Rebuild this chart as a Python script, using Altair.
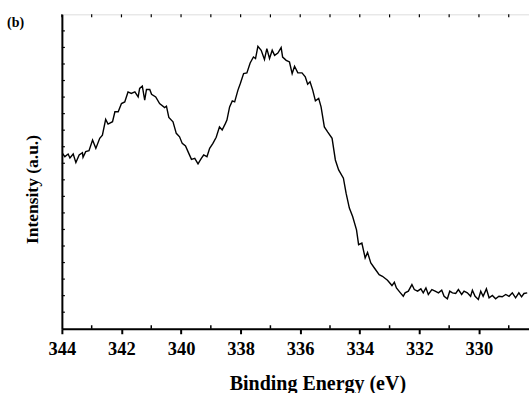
import altair as alt
import pandas as pd

# Binding energy (eV) and intensity (a.u.)
energy = [
    343.98, 343.90, 343.79, 343.73, 343.62, 343.53, 343.42, 343.31, 343.29, 343.20,
    343.09, 342.97, 342.86, 342.73, 342.64, 342.53, 342.45, 342.30, 342.22, 342.11,
    342.00, 341.89, 341.78, 341.67, 341.55, 341.44, 341.39, 341.30, 341.22, 341.16,
    341.05, 340.99, 340.85, 340.72, 340.55, 340.49, 340.41, 340.27, 340.16, 340.05,
    339.96, 339.85, 339.74, 339.65, 339.54, 339.43, 339.32, 339.24, 339.13, 339.04,
    338.93, 338.82, 338.71, 338.62, 338.51, 338.46, 338.37, 338.28, 338.20, 338.09,
    338.01, 337.90, 337.79, 337.68, 337.57, 337.50, 337.42, 337.31, 337.20, 337.12,
    337.03, 336.94, 336.86, 336.75, 336.64, 336.59, 336.47, 336.36, 336.27, 336.19,
    336.08, 335.94, 335.83, 335.75, 335.67, 335.58, 335.49, 335.38, 335.30, 335.19,
    335.08, 334.93, 334.82, 334.71, 334.55, 334.46, 334.35, 334.24, 334.11, 334.04,
    333.93, 333.82, 333.74, 333.63, 333.51, 333.35, 333.24, 333.07, 332.92, 332.84,
    332.77, 332.65, 332.54, 332.48, 332.37, 332.25, 332.17, 332.06, 331.95, 331.87,
    331.78, 331.70, 331.58, 331.47, 331.36, 331.25, 331.17, 331.06, 330.98, 330.89,
    330.78, 330.69, 330.58, 330.50, 330.39, 330.28, 330.22, 330.13, 330.02, 329.94,
    329.86, 329.75, 329.66, 329.55, 329.44, 329.33, 329.22, 329.10, 328.99, 328.88,
    328.77, 328.66, 328.57, 328.49, 328.38,
]
intensity = [
    10.60, 10.40, 10.56, 10.32, 10.56, 10.04, 10.50, 10.64, 10.36, 10.70,
    10.76, 11.40, 10.90, 11.51, 11.70, 12.65, 12.37, 12.51, 13.11, 13.11,
    13.61, 13.71, 14.31, 14.22, 14.31, 14.01, 14.52, 14.66, 13.81, 14.46,
    14.46, 14.17, 14.01, 13.61, 13.37, 13.45, 12.77, 12.51, 11.81, 11.60,
    11.20, 11.04, 10.60, 10.24, 10.30, 9.96, 10.30, 10.50, 10.40, 10.90,
    11.20, 11.57, 12.20, 12.01, 12.41, 12.61, 13.41, 13.77, 13.71, 14.42,
    14.82, 15.42, 15.46, 16.06, 16.42, 16.33, 17.07, 16.83, 16.27, 16.93,
    16.33, 16.83, 16.52, 16.66, 16.99, 16.42, 16.22, 16.12, 15.42, 15.86,
    15.46, 15.46, 15.22, 14.78, 14.92, 14.42, 13.77, 13.92, 13.41, 12.20,
    11.90, 11.51, 10.20, 9.60, 9.10, 8.19, 7.29, 6.78, 5.98, 5.08,
    5.18, 4.28, 4.61, 3.98, 3.67, 3.27, 3.17, 2.93, 2.61, 2.81,
    2.47, 2.20, 1.96, 2.17, 2.27, 2.67, 2.37, 2.27, 2.41, 2.17,
    2.47, 2.07, 2.37, 2.27, 2.17, 2.33, 1.96, 1.81, 2.27, 2.17,
    2.13, 2.37, 2.07, 2.27, 2.17, 1.96, 2.33, 1.96, 1.77, 2.27,
    1.96, 2.41, 1.87, 2.01, 1.81, 1.96, 1.93, 2.07, 1.96, 2.17,
    1.87, 2.17, 1.93, 2.13, 2.17,
]

x_major_ticks = [344, 342, 340, 338, 336, 334, 332, 330]
x_minor_ticks = [343, 341, 339, 337, 335, 333, 331, 329]
x_top_ticks = [344, 343, 342, 341, 340, 339, 338, 337, 336, 335, 334, 333, 332, 331, 330, 329]
y_ticks = list(range(1, 19))
panel_label = ["(b)"]

FONT = "Liberation Serif"
W, H = 468, 315
x_domain = [344, 328.32]
y_domain = [0, 19]

df = pd.DataFrame({"energy": energy, "intensity": intensity})

xscale = alt.Scale(domain=x_domain, nice=False, zero=False)
yscale = alt.Scale(domain=y_domain, nice=False, zero=False)

line = alt.Chart(df).mark_line(color="black", strokeWidth=1.4).encode(
    x=alt.X("energy:Q", scale=xscale,
            axis=alt.Axis(values=x_major_ticks, title="Binding Energy (eV)",
                          grid=False, domainColor="black", domainWidth=2,
                          tickColor="black", tickWidth=2, tickSize=5,
                          labelFont=FONT, labelFontWeight="bold", labelFontSize=18.5,
                          labelColor="black", labelPadding=6, labelFlush=False,
                          titleFont=FONT, titleFontWeight="bold", titleFontSize=20,
                          titleColor="black", titleX=256, titleY=61,
                          titleBaseline="alphabetic")),
    y=alt.Y("intensity:Q", scale=yscale,
            axis=alt.Axis(title="Intensity (a.u.)", labels=False, ticks=False,
                          grid=False, domainColor="black", domainWidth=2,
                          titleFont=FONT, titleFontWeight="bold", titleFontSize=17.5,
                          titleColor="black", titleX=-24, titleY=175,
                          titleBaseline="alphabetic")),
)

minor_bottom = alt.Chart(pd.DataFrame({"t": x_minor_ticks})).mark_rule(
    color="black", strokeWidth=1.5).encode(
    x=alt.X("t:Q", scale=xscale), y=alt.value(H), y2=alt.value(H - 3.5))

top_ticks = alt.Chart(pd.DataFrame({"t": x_top_ticks})).mark_rule(
    color="black", strokeWidth=1.2).encode(
    x=alt.X("t:Q", scale=xscale), y=alt.value(0), y2=alt.value(3))

left_ticks = alt.Chart(pd.DataFrame({"t": y_ticks})).mark_rule(
    color="black", strokeWidth=1.2).encode(
    y=alt.Y("t:Q", scale=yscale), x=alt.value(0), x2=alt.value(3))

label = alt.Chart(pd.DataFrame({"s": panel_label})).mark_text(
    font=FONT, fontWeight="bold", fontSize=14, color="black",
    align="left", baseline="alphabetic").encode(
    text="s:N", x=alt.value(-55), y=alt.value(12.5))

chart = alt.layer(line, minor_bottom, top_ticks, left_ticks, label).properties(
    width=W, height=H,
    autosize=alt.AutoSizeParams(type="none"),
    padding={"left": 62, "top": 14, "right": 0, "bottom": 64},
).configure_view(stroke="black", strokeWidth=1.5).configure(background="white")

chart.save("out.html", embed_options={"renderer": "svg", "actions": False})
